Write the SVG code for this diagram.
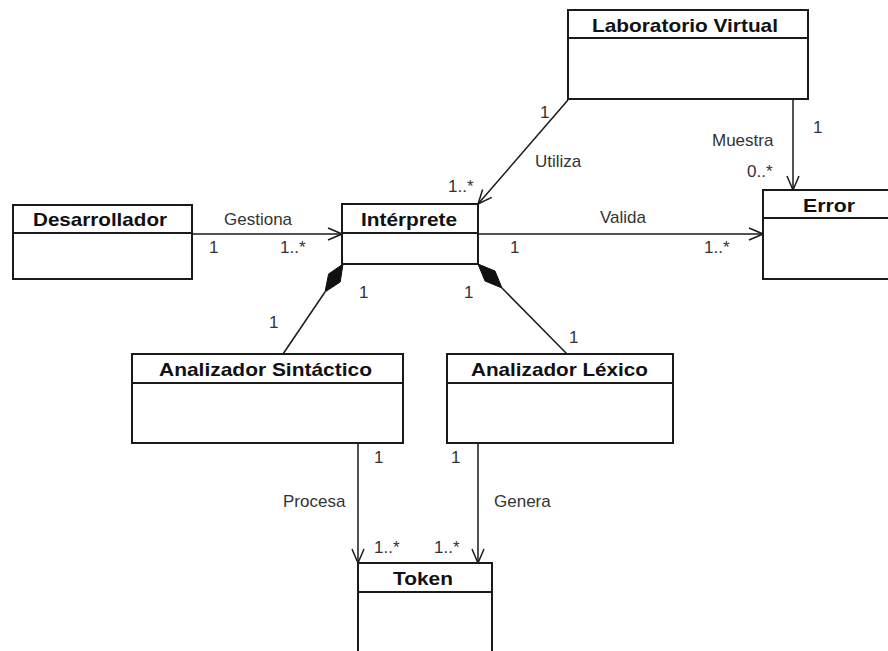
<svg xmlns="http://www.w3.org/2000/svg" width="888" height="651" viewBox="0 0 888 651">
  <style>
    .box { fill: #ffffff; stroke: #1a1a1a; stroke-width: 2; }
    .sep { stroke: #1a1a1a; stroke-width: 2; }
    .name { font-family: "Liberation Sans", Arial, sans-serif; font-size: 19px; font-weight: bold; fill: #111; text-anchor: middle; }
    .lbl { font-family: "Liberation Sans", Arial, sans-serif; font-size: 17px; fill: #333; }
    .edge { stroke: #1a1a1a; stroke-width: 1.5; fill: none; }
    .diamond { fill: #111; stroke: #111; stroke-width: 1; }
  </style>
  <defs>
    <marker id="open" viewBox="0 0 16 14" refX="15" refY="7" markerWidth="16" markerHeight="14" markerUnits="userSpaceOnUse" orient="auto">
      <path d="M1,1 L15,7 L1,13" fill="none" stroke="#1a1a1a" stroke-width="1.5"/>
    </marker>
  </defs>
  <rect width="888" height="651" fill="#ffffff"/>

  <!-- associations -->
  <g id="connectors">
    <line class="edge" x1="568" y1="100" x2="478" y2="204" marker-end="url(#open)"/>
    <line class="edge" x1="793" y1="99" x2="793" y2="190" marker-end="url(#open)"/>
    <line class="edge" x1="192" y1="234" x2="342" y2="234" marker-end="url(#open)"/>
    <line class="edge" x1="478" y1="234" x2="763" y2="234" marker-end="url(#open)"/>
    <line class="edge" x1="358" y1="444" x2="358" y2="563" marker-end="url(#open)"/>
    <line class="edge" x1="478" y1="444" x2="478" y2="563" marker-end="url(#open)"/>
    <!-- compositions -->
    <line class="edge" x1="325" y1="292" x2="283" y2="354"/>
    <polygon class="diamond" points="343,264 340.2,282 325,292 328.6,274"/>
    <line class="edge" x1="502" y1="288" x2="567" y2="354"/>
    <polygon class="diamond" points="478,264 495,271 502,288 485,281"/>

    <text class="lbl" x="813" y="133">1</text>
    <text class="lbl" x="712" y="146">Muestra</text>
    <text class="lbl" x="747" y="177">0..*</text>
    <text class="lbl" x="540" y="118">1</text>
    <text class="lbl" x="535" y="167">Utiliza</text>
    <text class="lbl" x="448" y="192">1..*</text>
    <text class="lbl" x="224" y="225">Gestiona</text>
    <text class="lbl" x="209" y="253">1</text>
    <text class="lbl" x="280" y="253">1..*</text>
    <text class="lbl" x="600" y="223">Valida</text>
    <text class="lbl" x="510" y="253">1</text>
    <text class="lbl" x="704" y="253">1..*</text>
    <text class="lbl" x="359" y="298">1</text>
    <text class="lbl" x="269" y="328">1</text>
    <text class="lbl" x="464" y="298">1</text>
    <text class="lbl" x="569" y="343">1</text>
    <text class="lbl" x="374" y="463">1</text>
    <text class="lbl" x="451" y="463">1</text>
    <text class="lbl" x="283" y="507">Procesa</text>
    <text class="lbl" x="494" y="507">Genera</text>
    <text class="lbl" x="374" y="553">1..*</text>
    <text class="lbl" x="434" y="553">1..*</text>
  </g>

  <g id="laboratorio-virtual">
    <rect class="box" x="568" y="10" width="240" height="89"/>
    <line class="sep" x1="568" y1="38" x2="808" y2="38"/>
    <text class="name" x="685" y="32" textLength="186" lengthAdjust="spacingAndGlyphs">Laboratorio Virtual</text>
  </g>

  <g id="desarrollador">
    <rect class="box" x="13" y="205" width="179" height="74"/>
    <line class="sep" x1="13" y1="233" x2="192" y2="233"/>
    <text class="name" x="100" y="226" textLength="134" lengthAdjust="spacingAndGlyphs">Desarrollador</text>
  </g>

  <g id="interprete">
    <rect class="box" x="342" y="204" width="136" height="60"/>
    <line class="sep" x1="342" y1="233" x2="478" y2="233"/>
    <text class="name" x="409" y="226" textLength="96" lengthAdjust="spacingAndGlyphs">Intérprete</text>
  </g>

  <g id="error">
    <rect class="box" x="763" y="190" width="134" height="89"/>
    <line class="sep" x1="763" y1="218" x2="897" y2="218"/>
    <text class="name" x="829" y="212" textLength="52" lengthAdjust="spacingAndGlyphs">Error</text>
  </g>

  <g id="analizador-sintactico">
    <rect class="box" x="132" y="354" width="271" height="89"/>
    <line class="sep" x1="132" y1="383" x2="403" y2="383"/>
    <text class="name" x="265.5" y="376" textLength="213" lengthAdjust="spacingAndGlyphs">Analizador Sintáctico</text>
  </g>

  <g id="analizador-lexico">
    <rect class="box" x="447" y="354" width="226" height="89"/>
    <line class="sep" x1="447" y1="383" x2="673" y2="383"/>
    <text class="name" x="559.5" y="376" textLength="177" lengthAdjust="spacingAndGlyphs">Analizador Léxico</text>
  </g>

  <g id="token">
    <rect class="box" x="358" y="563" width="134" height="120"/>
    <line class="sep" x1="358" y1="592" x2="492" y2="592"/>
    <text class="name" x="423" y="585" textLength="60" lengthAdjust="spacingAndGlyphs">Token</text>
  </g>
</svg>
